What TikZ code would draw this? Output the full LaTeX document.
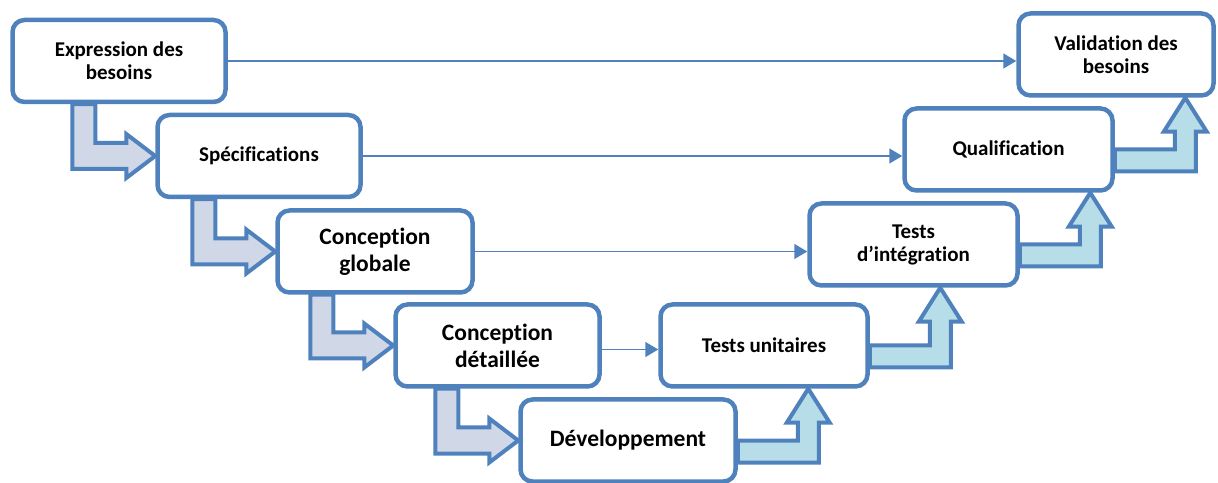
\documentclass[tikz,border=0pt]{standalone}
\usepackage{fontspec}
\setmainfont{Carlito}[Ligatures=NoCommon]
\usepackage{tikz}
\usetikzlibrary{calc,arrows.meta,backgrounds}

\definecolor{vblue}{HTML}{4F81BD}
\definecolor{vdown}{HTML}{D0D8E8}
\definecolor{vup}{HTML}{B7DDE8}

\begin{document}
\begin{tikzpicture}[x=1pt, y=1pt,
    phase/.style={draw=vblue, line width=4.5pt, fill=white, rounded corners=12pt,
      minimum height=82pt, align=center, inner sep=0pt},
    smalltext/.style={font=\fontsize{21}{23}\selectfont\bfseries},
    largetext/.style={font=\fontsize{23.5}{27}\selectfont\bfseries},
    downblock/.style={draw=vblue, line width=4pt, fill=vdown},
    upblock/.style={draw=vblue, line width=4pt, fill=vup},
    linkarrow/.style={draw=vblue, line width=1.6pt, -{Triangle[length=13pt, width=15pt]}}]
    \useasboundingbox (0,0) rectangle (1218,482);

    % left branch
    \node[phase, smalltext, minimum width=213pt] (expr) at (119,421) {Expression des\\besoins};
    \node[phase, smalltext, minimum width=203pt] (spec) at (259,326) {Spécifications};
    \node[phase, largetext, minimum width=195pt] (cglob) at (375,230.5) {Conception\\globale};
    \node[phase, largetext, minimum width=204pt] (cdet) at (497.5,136.5) {Conception\\détaillée};
    \node[phase, largetext, minimum width=215pt] (dev) at (628,41.5) {Développement};

    % right branch
    \node[phase, smalltext, minimum width=207pt] (tunit) at (764,136.5) {Tests unitaires};
    \node[phase, smalltext, minimum width=208pt] (tinteg) at (913.5,237.5) {Tests\\d’intégration};
    \node[phase, smalltext, minimum width=208pt] (qualif) at (1008.5,332.5) {Qualification};
    \node[phase, smalltext, minimum width=195pt] (valid) at (1116,427.5) {Validation des\\besoins};

    % thick arrows, behind the boxes
    \begin{scope}[on background layer]
      \foreach \a/\b in {expr/spec, spec/cglob, cglob/cdet, cdet/dev}
        \draw[downblock] let \p1=(\b.west), \p2=(\a.south) in
          (\x1-83pt,\y2) -- (\x1-60pt,\y2) -- (\x1-60pt,\y1+13pt)
          -- (\x1-29pt,\y1+13pt) -- (\x1-29pt,\y1+22pt) -- (\x1,\y1)
          -- (\x1-29pt,\y1-22pt) -- (\x1-29pt,\y1-13pt)
          -- (\x1-83pt,\y1-13pt) -- cycle;
      \foreach \a/\b in {dev/tunit, tunit/tinteg, tinteg/qualif, qualif/valid}
        \draw[upblock] let \p1=(\a.east), \p2=(\b.south) in
          (\x1,\y1) -- (\x1+60pt,\y1) -- (\x1+60pt,\y2-34pt)
          -- (\x1+49pt,\y2-34pt) -- (\x1+70.5pt,\y2) -- (\x1+92pt,\y2-34pt)
          -- (\x1+81pt,\y2-34pt) -- (\x1+81pt,\y1-22pt)
          -- (\x1,\y1-22pt) -- cycle;
    \end{scope}

    % thin arrows across the V
    \draw[linkarrow] (expr.east) -- (expr.east -| valid.west);
    \draw[linkarrow] (spec.east) -- (spec.east -| qualif.west);
    \draw[linkarrow] (cglob.east) -- (cglob.east -| tinteg.west);
    \draw[linkarrow] ([yshift=-4pt]cdet.east) -- ([yshift=-4pt]cdet.east -| tunit.west);
\end{tikzpicture}
\end{document}
